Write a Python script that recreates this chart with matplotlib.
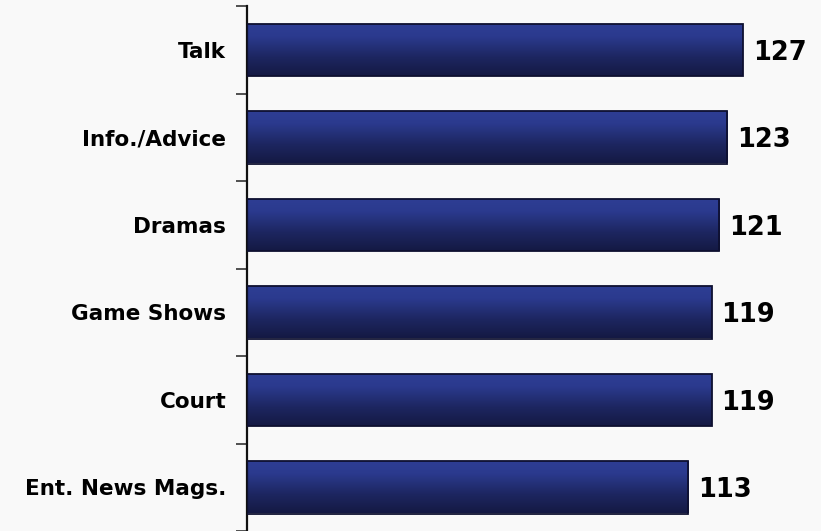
import matplotlib.pyplot as plt
import numpy as np
from matplotlib.colors import LinearSegmentedColormap

# Programme genres and their index values
genres = ["Talk", "Info./Advice", "Dramas", "Game Shows", "Court", "Ent. News Mags."]
index_values = [127, 123, 121, 119, 119, 113]

W, H = 821, 531
fig = plt.figure(figsize=(W / 100, H / 100), dpi=100, facecolor="#f9f9f9")
ax = fig.add_axes([247 / W, 0, 1 - 247 / W, 525 / H])
ax.set_facecolor("#f9f9f9")

n = len(genres)
ypos = np.arange(n)[::-1]
bars = ax.barh(ypos, index_values, height=0.6, color="none",
               edgecolor="#0e1030", linewidth=1.3, zorder=3)

ax.set_xlim(0, 147)
ax.set_ylim(-0.5, n - 0.5)

# vertical shading inside every bar: lighter blue on top, deep navy at the bottom
shade = LinearSegmentedColormap.from_list(
    "navy", [(0.0, "#141943"), (0.35, "#1d2660"), (0.75, "#2b3a8e"), (1.0, "#2e3e94")])
grad = np.linspace(0, 1, 256).reshape(-1, 1)
for bar in bars:
    x0, y0 = bar.get_x(), bar.get_y()
    w, h = bar.get_width(), bar.get_height()
    img = ax.imshow(grad, cmap=shade, aspect="auto", origin="lower",
                    extent=(x0, x0 + w, y0, y0 + h), zorder=2)
    img.set_clip_path(bar)

for y, v in zip(ypos, index_values):
    ax.annotate(str(v), (v, y), xytext=(7, -2), textcoords="offset points",
                ha="left", va="center", fontsize=18.5, fontweight="bold", color="black")

ax.set_yticks(ypos)
ax.set_yticklabels(genres, fontsize=15.5, fontweight="bold", color="black")
ax.tick_params(axis="y", which="major", length=0, pad=15)
ax.set_yticks(np.arange(-0.5, n), minor=True)
ax.tick_params(axis="y", which="minor", length=8, width=1.2, color="#333333")
ax.set_xticks([])

for side in ("top", "right", "bottom"):
    ax.spines[side].set_visible(False)
ax.spines["left"].set_linewidth(1.6)
ax.spines["left"].set_color("#111111")

fig.savefig("out.png", dpi=100, facecolor=fig.get_facecolor())
